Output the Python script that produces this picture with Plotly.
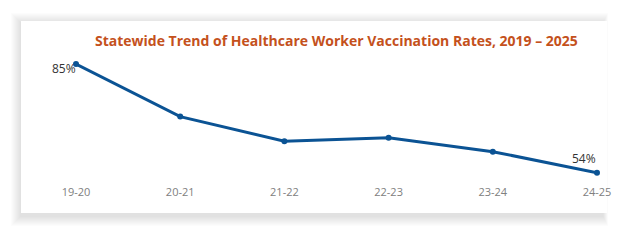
import plotly.graph_objects as go

seasons = ["19-20", "20-21", "21-22", "22-23", "23-24", "24-25"]
rates = [85, 70, 63, 64, 60, 54]
label_text = ["85%", "54%"]
label_idx = [0, 5]
title_text = "Statewide Trend of Healthcare Worker Vaccination Rates, 2019 \u2013 2025"

W, H = 627, 240
l, r, t, b = 76, 30, 21, 56
pw, ph = W - l - r, H - t - b

def px_to_paper_x(px):
    return (px - l) / pw

def px_to_paper_y(py):
    return 1 - (py - t) / ph

fig = go.Figure()
fig.add_trace(go.Scatter(
    x=list(range(len(seasons))), y=rates,
    mode="lines+markers",
    line=dict(color="#0B5394", width=3),
    marker=dict(color="#0B5394", size=6),
    cliponaxis=False,
    hoverinfo="skip",
))

# card shadow (soft) + card
shapes = []
n = 10
for i in range(n):
    d = n - i
    shapes.append(dict(type="rect", xref="paper", yref="paper", layer="below",
                       x0=px_to_paper_x(21 - d), x1=px_to_paper_x(603 + d * 0.5),
                       y0=px_to_paper_y(213 + d + 3), y1=px_to_paper_y(21 - d + 2),
                       line=dict(width=0), fillcolor="rgba(0,0,0,0.012)"))
shapes.append(dict(type="rect", xref="paper", yref="paper", layer="below",
                   x0=px_to_paper_x(21), x1=px_to_paper_x(607),
                   y0=px_to_paper_y(213), y1=px_to_paper_y(21),
                   line=dict(width=0), fillcolor="white"))

# y range: 85 -> 64px, 54 -> 172.7px
pxu = (172.7 - 64) / 31
ytop = 85 + (64 - t) / pxu
ybot = 54 - (H - b - 172.7) / pxu

annotations = [dict(text=f"<b>{title_text}</b>", xref="paper", yref="paper",
                    x=px_to_paper_x(336), y=px_to_paper_y(40), xanchor="center", yanchor="middle",
                    showarrow=False, font=dict(family="Open Sans", size=14, color="#C4511C"))]
annotations.append(dict(text=label_text[0], x=label_idx[0], y=rates[label_idx[0]],
                        xref="x", yref="y", xanchor="right", yanchor="middle",
                        xshift=2, yshift=-4, showarrow=False,
                        font=dict(family="Open Sans", size=12, color="#333333")))
annotations.append(dict(text=label_text[1], x=label_idx[1], y=rates[label_idx[1]],
                        xref="x", yref="y", xanchor="right", yanchor="bottom",
                        xshift=1, yshift=4, showarrow=False,
                        font=dict(family="Open Sans", size=12, color="#333333")))

fig.update_layout(
    width=W, height=H,
    margin=dict(l=l, r=r, t=t, b=b, pad=0),
    paper_bgcolor="white", plot_bgcolor="rgba(0,0,0,0)",
    showlegend=False,
    shapes=shapes,
    xaxis=dict(tickmode="array", tickvals=list(range(len(seasons))), ticktext=seasons,
               range=[0, 5], showgrid=False, zeroline=False, showline=False,
               ticks="", tickfont=dict(family="Open Sans", size=11, color="#808080")),
    yaxis=dict(range=[ybot, ytop], visible=False),
    annotations=annotations,
)

fig.write_html("out.html")
